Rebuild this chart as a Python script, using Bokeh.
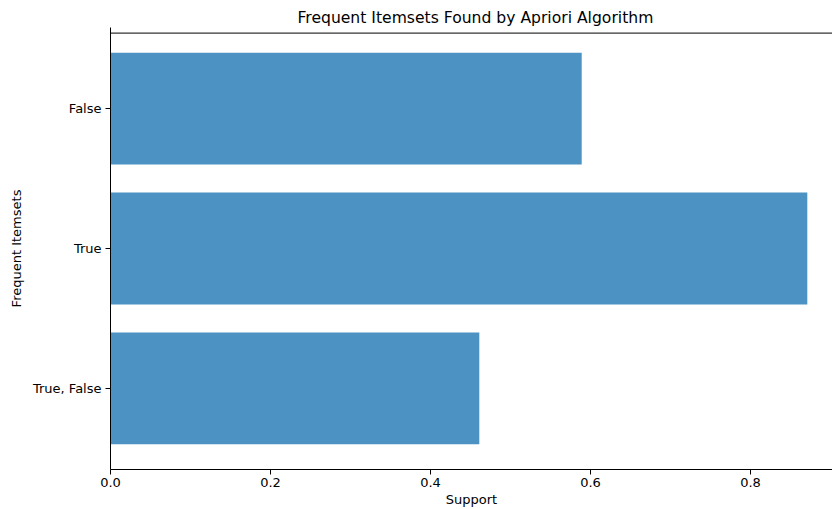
from bokeh.plotting import figure
from bokeh.models import FactorRange, Range1d, FixedTicker, PrintfTickFormatter, Span, ColumnDataSource
from bokeh.embed import file_html
from bokeh.resources import INLINE

itemsets = ["True, False", "True", "False"]
support = [0.461, 0.871, 0.589]
x_ticks = [0.0, 0.2, 0.4, 0.6, 0.8]

FONT = "DejaVu Sans"

source = ColumnDataSource(data=dict(itemsets=itemsets, support=support))

p = figure(
    width=832, height=509,
    y_range=FactorRange(factors=itemsets, range_padding=0.08, range_padding_units="absolute"),
    x_range=Range1d(0, 0.9025),
    output_backend="svg", toolbar_location=None,
    title="Frequent Itemsets Found by Apriori Algorithm",
    min_border_left=110, min_border_top=27, min_border_bottom=34, min_border_right=0,
)

p.hbar(y="itemsets", right="support", left=0, height=0.8, source=source,
       fill_color="#1f77b4", fill_alpha=0.8, line_color=None)

p.outline_line_color = None
p.xgrid.grid_line_color = None
p.ygrid.grid_line_color = None
p.background_fill_color = "white"
p.border_fill_color = "white"

# top spine
p.add_layout(Span(location=3.04, dimension="width", line_color="black", line_width=1))

p.title.text_font = FONT
p.title.text_font_size = "15.6px"
p.title.text_font_style = "normal"
p.title.align = "left"
p.title.text_color = "black"
p.title.offset = 187
p.title.standoff = 1

for ax in (p.xaxis[0], p.yaxis[0]):
    ax.axis_line_color = "black"
    ax.axis_line_width = 1
    ax.major_tick_line_color = "black"
    ax.major_tick_out = 5
    ax.major_tick_in = 0
    ax.minor_tick_line_color = None
    ax.major_label_text_font = FONT
    ax.major_label_text_font_size = "13px"
    ax.major_label_text_color = "black"
    ax.axis_label_text_font = FONT
    ax.axis_label_text_font_size = "13px"
    ax.axis_label_text_font_style = "normal"
    ax.axis_label_text_color = "black"

p.xaxis[0].ticker = FixedTicker(ticks=x_ticks)
p.xaxis[0].formatter = PrintfTickFormatter(format="%.1f")
p.xaxis[0].axis_label = "Support"
p.xaxis[0].major_label_standoff = 3
p.xaxis[0].axis_label_standoff = 2
p.yaxis[0].axis_label = "Frequent Itemsets"
p.yaxis[0].major_label_standoff = 4
p.yaxis[0].axis_label_standoff = 6

open("out.html", "w").write(file_html(p, INLINE))
